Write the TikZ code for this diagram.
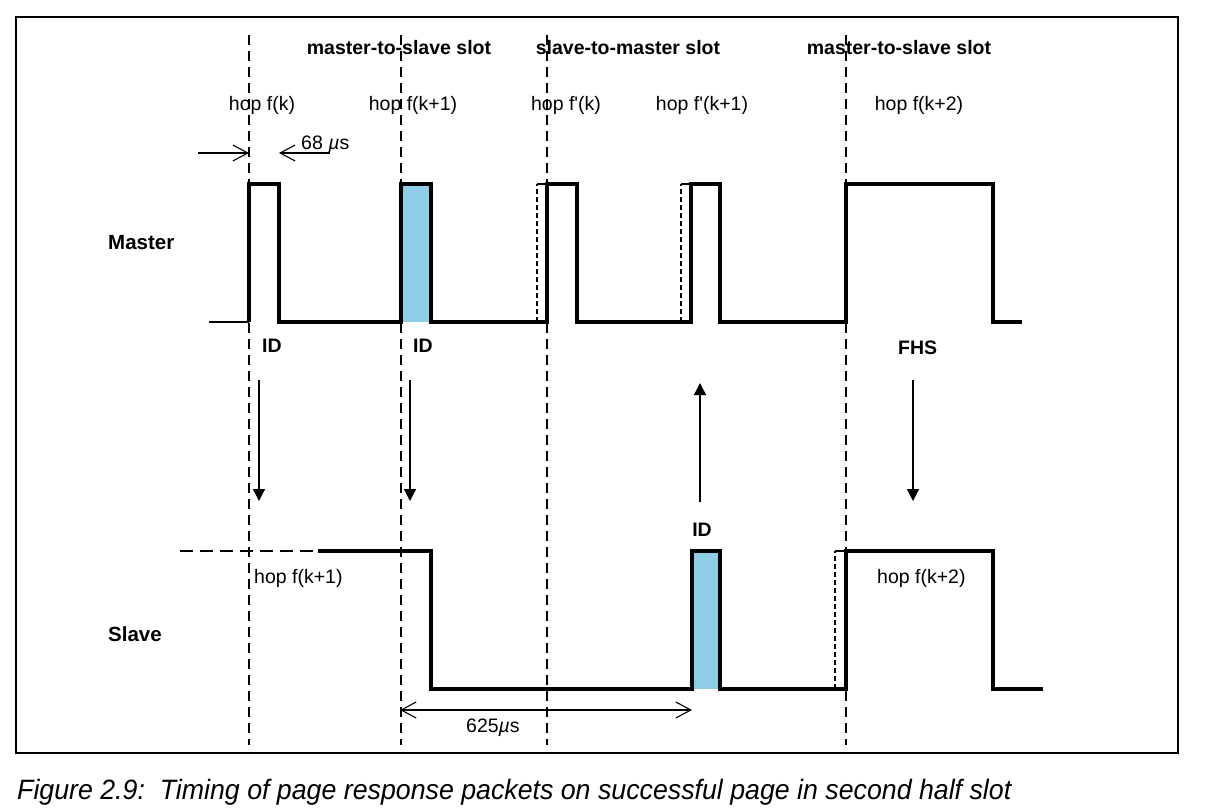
\documentclass[tikz,border=0pt]{standalone}
\usepackage{fontspec}
\setmainfont{Liberation Sans}
\usetikzlibrary{arrows.meta}
\definecolor{pulseblue}{RGB}{142,205,230}
\tikzset{
  wave/.style={line width=3.2pt, line join=miter},
  slotline/.style={line width=1.3pt, dash pattern=on 10pt off 6pt},
  preedge/.style={line width=1.1pt, dash pattern=on 5pt off 3pt},
  thinline/.style={line width=1.1pt},
  lbl/.style={inner sep=0pt, font=\fontsize{19.5}{22}\selectfont},
  blbl/.style={inner sep=0pt, font=\fontsize{19.5}{22}\selectfont\bfseries},
  biglbl/.style={inner sep=0pt, font=\fontsize{20.5}{23}\selectfont\bfseries},
  dimarrow/.style={line width=1.1pt, -{Straight Barb[length=15pt,width=16pt]}},
  dimboth/.style={line width=1.1pt, {Straight Barb[length=15pt,width=16pt]}-{Straight Barb[length=15pt,width=16pt]}},
  dirarrow/.style={line width=1.3pt, -{Triangle[length=12pt,width=12pt]}},
}
\begin{document}
\begin{tikzpicture}[x=1pt,y=-1pt]
\useasboundingbox (0,0) rectangle (1208,810);
% frame
\draw[line width=2.2pt] (16,17) rectangle (1178,753);

% blue pulses
\fill[pulseblue] (401,184) rectangle (431,322);
\fill[pulseblue] (692,551) rectangle (720,689);

% slot boundaries
\foreach \x in {249,401,547,846} \draw[slotline] (\x,35) -- (\x,745);

% labels top
\node[blbl, anchor=base] (s1) at (399,55) {master-to-slave slot};
\node[blbl, anchor=base] (s2) at (628,55) {slave-to-master slot};
\node[blbl, anchor=base] (s3) at (899,55) {master-to-slave slot};
\node[lbl, anchor=base] (h1) at (262,111) {hop f(k)};
\node[lbl, anchor=base] (h2) at (413,111) {hop f(k+1)};
\node[lbl, anchor=base] (h3) at (566,111) {hop f\textquotesingle(k)};
\node[lbl, anchor=base] (h4) at (702,111) {hop f\textquotesingle(k+1)};
\node[lbl, anchor=base] (h5) at (919,111) {hop f(k+2)};

% 68 us
\coordinate (d1a) at (198,153);
\coordinate (d1b) at (249,153);
\coordinate (d2a) at (330,153);
\coordinate (d2b) at (279,153);
\draw[dimarrow] (d1a) -- (d1b);
\draw[dimarrow] (d2a) -- (d2b);
\node[lbl, anchor=base west] (t68) at (301,150) {68 {\itshape µ}s};

% master waveform
\node[biglbl, anchor=base west] (master) at (108,250) {Master};
\draw[thinline] (209,322) -- (249,322);
\draw[wave] (249,322) -- (249,184) -- (279,184) -- (279,322) -- (401,322)
  -- (401,184) -- (431,184) -- (431,322) -- (547,322) -- (547,184)
  -- (577,184) -- (577,322) -- (691,322) -- (691,184) -- (720,184)
  -- (720,322) -- (846,322) -- (846,184) -- (993,184) -- (993,322) -- (1022,322);
\draw[preedge] (537,322) -- (537,184);
\draw[thinline] (537,184) -- (547,184);
\draw[preedge] (681,322) -- (681,184);
\draw[thinline] (681,184) -- (691,184);

% packet labels
\node[blbl, anchor=base west] (id1) at (262,353) {ID};
\node[blbl, anchor=base west] (id2) at (413,353) {ID};
\node[blbl, anchor=base west] (fhs) at (898,355) {FHS};
\node[blbl, anchor=base] (id3) at (702,536) {ID};

% direction arrows
\coordinate (a1s) at (259,380); \coordinate (a1e) at (259,501);
\coordinate (a2s) at (410,380); \coordinate (a2e) at (410,501);
\coordinate (a3s) at (700,502); \coordinate (a3e) at (700,383);
\coordinate (a4s) at (913,380); \coordinate (a4e) at (913,501);
\draw[dirarrow] (a1s) -- (a1e);
\draw[dirarrow] (a2s) -- (a2e);
\draw[dirarrow] (a3s) -- (a3e);
\draw[dirarrow] (a4s) -- (a4e);

% slave waveform
\node[biglbl, anchor=base west] (slave) at (108,641) {Slave};
\draw[line width=1.3pt, dash pattern=on 13pt off 7pt] (180,551) -- (318,551);
\draw[wave] (318,551) -- (431,551) -- (431,689) -- (692,689) -- (692,551)
  -- (720,551) -- (720,689) -- (846,689) -- (846,551) -- (993,551)
  -- (993,689) -- (1043,689);
\draw[preedge] (835,689) -- (835,551);
\draw[thinline] (835,551) -- (846,551);
\node[lbl, anchor=base west] (hs1) at (254,583) {hop f(k+1)};
\node[lbl, anchor=base west] (hs2) at (877,583) {hop f(k+2)};

% 625 us
\coordinate (p1) at (400,710);
\coordinate (p2) at (692,710);
\draw[dimboth] (p1) -- (p2);
\node[lbl, anchor=base west] (t625) at (466,732) {625{\itshape µ}s};

% caption
\node[inner sep=0pt, anchor=base west, xscale=0.955, transform shape, font=\fontsize{28}{31}\selectfont\itshape] (cap) at (17,799)
  {Figure 2.9:\ \ Timing of page response packets on successful page in second half slot};
\end{tikzpicture}
\end{document}
